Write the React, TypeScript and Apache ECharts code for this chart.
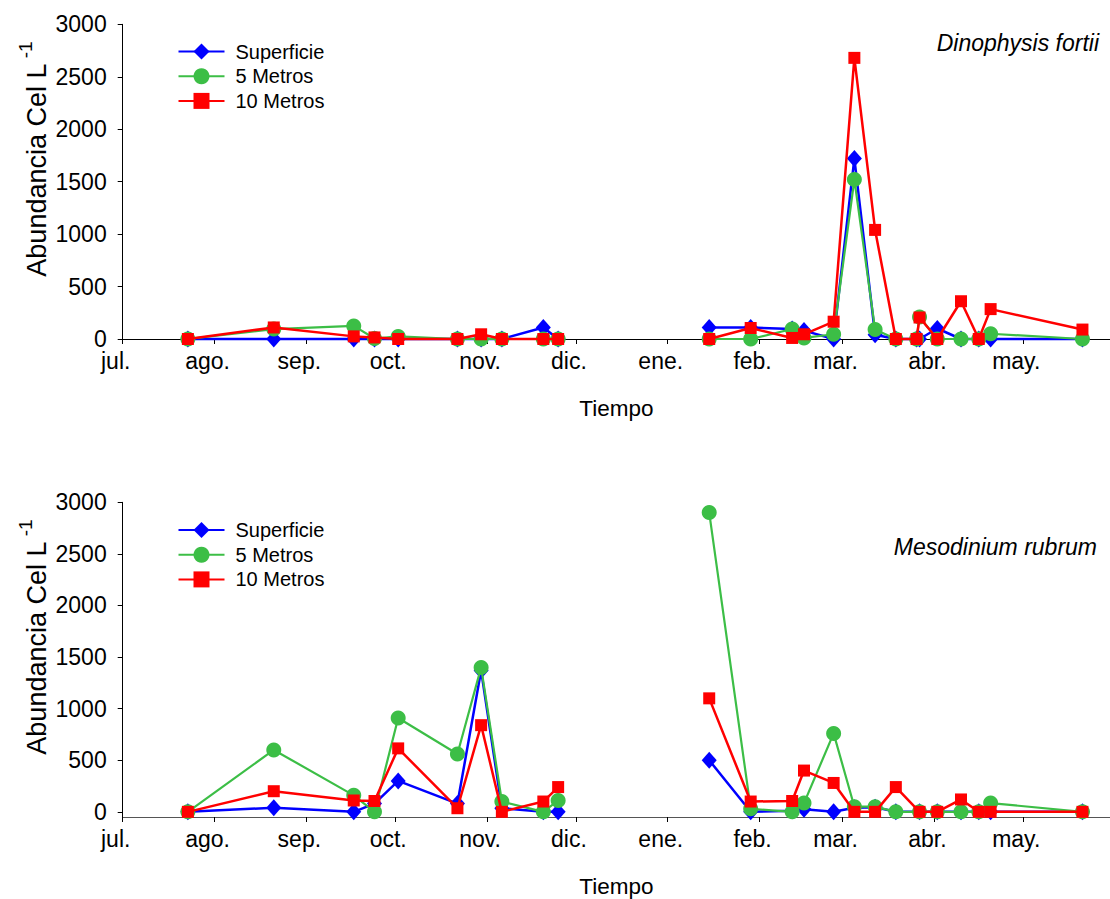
import React, { useEffect, useRef } from "react";
import * as echarts from "echarts";

const FONT = "'Liberation Sans', Arial, Helvetica, sans-serif";

const seasonStart = "2002-07-01";
const monthTickDays = [0, 31, 62, 92, 123, 153, 184, 215, 243, 274, 304];
const monthLabels = ["jul.", "ago.", "sep.", "oct.", "nov.", "dic.", "ene.", "feb.", "mar.", "abr.", "may."];
const yTickValues = [0, 500, 1000, 1500, 2000, 2500, 3000];
const seriesNames = ["Superficie", "5 Metros", "10 Metros"];
const speciesNames = ["Dinophysis fortii", "Mesodinium rubrum"];

const datesTop = [
  "2002-07-23", "2002-08-21", "2002-09-17", "2002-09-24", "2002-10-02", "2002-10-22", "2002-10-30",
  "2002-11-06", "2002-11-20", "2002-11-25", "2003-01-15", "2003-01-29", "2003-02-12", "2003-02-16",
  "2003-02-26", "2003-03-05", "2003-03-12", "2003-03-19", "2003-03-26", "2003-03-27", "2003-04-02",
  "2003-04-10", "2003-04-16", "2003-04-20", "2003-05-21",
];
const superficieTop = [0, 0, 0, 0, 0, 0, 0, 0, 110, 0, 110, 110, 95, 80, 0, 1720, 40, 0, 0, 0, 100, 0, 0, 0, 0];
const metros5Top = [0, 95, 125, 5, 25, 0, 0, 0, 0, 0, 0, 0, 95, 10, 45, 1520, 90, 0, 0, 210, 0, 0, 0, 50, 0];
const metros10Top = [0, 110, 25, 15, 0, 0, 45, 0, 0, 0, 0, 105, 10, 45, 165, 2680, 1040, 0, 0, 205, 0, 360, 0, 285, 90];

const datesBottom = [
  "2002-07-23", "2002-08-21", "2002-09-17", "2002-09-24", "2002-10-02", "2002-10-22", "2002-10-30",
  "2002-11-06", "2002-11-20", "2002-11-25", "2003-01-15", "2003-01-29", "2003-02-12", "2003-02-16",
  "2003-02-26", "2003-03-05", "2003-03-12", "2003-03-19", "2003-03-27", "2003-04-02",
  "2003-04-10", "2003-04-16", "2003-04-20", "2003-05-21",
];
const superficieBottom = [0, 40, 0, 80, 300, 80, 1370, 35, 0, 0, 500, 0, 10, 25, 0, 40, 45, 0, 0, 0, 0, 0, 0, 0];
const metros5Bottom = [0, 600, 160, 0, 910, 560, 1400, 100, 0, 110, 2900, 30, 0, 85, 760, 50, 50, 0, 0, 0, 0, 0, 85, 0];
const metros10Bottom = [0, 200, 110, 105, 615, 35, 840, 0, 100, 240, 1100, 100, 105, 400, 280, 0, 0, 240, 0, 0, 120, 0, 0, 0];

const COLORS = ["#0000ff", "#3cbe46", "#ff0000"];
const SYMBOLS = ["diamond", "circle", "rect"];
const SYMBOL_SIZES: any[] = [[15, 17], 15, 12];

function dayOf(d: string): number {
  const [y, m, dd] = d.split("-").map(Number);
  const [y0, m0, d0] = seasonStart.split("-").map(Number);
  return Math.round((Date.UTC(y, m - 1, dd) - Date.UTC(y0, m0 - 1, d0)) / 86400000);
}

function buildData(dates: string[], values: number[]) {
  const out: any[] = [];
  for (let i = 0; i < dates.length; i++) {
    const x = dayOf(dates[i]);
    if (i > 0 && x - dayOf(dates[i - 1]) > 40) {
      out.push([(x + dayOf(dates[i - 1])) / 2, "-"]);
    }
    out.push([x, values[i]]);
  }
  return out;
}

export default function App() {
  const ref = useRef<HTMLDivElement>(null);
  useEffect(() => {
    if (!ref.current) return;
    const chart = echarts.init(ref.current, undefined, { renderer: "svg" });

    const xAxisBase = (gridIndex: number, lineColor: string) => ({
      type: "value",
      gridIndex,
      min: 0,
      max: 333.3,
      name: "Tiempo",
      nameLocation: "middle",
      nameGap: 58,
      nameTextStyle: { fontFamily: FONT, fontSize: 22.5, color: "#000" },
      axisLine: { show: true, onZero: false, lineStyle: { color: lineColor, width: 1 } },
      axisTick: { show: true, length: 5, lineStyle: { color: "#000" }, customValues: monthTickDays },
      axisLabel: {
        fontFamily: FONT,
        fontSize: 23,
        color: "#000",
        margin: 10,
        padding: [0, 14, 0, 0],
        customValues: monthTickDays,
        formatter: (v: number) => {
          const i = monthTickDays.indexOf(Math.round(v));
          return i >= 0 ? monthLabels[i] : "";
        },
      },
      splitLine: { show: false },
    });

    const yAxisBase = (gridIndex: number, min: number) => ({
      type: "value",
      gridIndex,
      min,
      max: 3000,
      axisLine: { show: true, onZero: false, lineStyle: { color: "#000", width: 1 } },
      axisTick: { show: true, length: 5, lineStyle: { color: "#000" }, customValues: yTickValues },
      axisLabel: {
        fontFamily: FONT,
        fontSize: 23,
        color: "#000",
        margin: 16,
        customValues: yTickValues,
        formatter: (v: number) => String(Math.round(v)),
      },
      splitLine: { show: false },
    });

    const makeSeries = (idx: number, dates: string[], arrs: number[][]) =>
      arrs.map((vals, k) => ({
        type: "line",
        name: seriesNames[k],
        xAxisIndex: idx,
        yAxisIndex: idx,
        data: buildData(dates, vals),
        symbol: SYMBOLS[k],
        symbolSize: SYMBOL_SIZES[k],
        showAllSymbol: true,
        connectNulls: false,
        clip: false,
        lineStyle: { color: COLORS[k], width: k === 1 ? 2.2 : 2.5 },
        itemStyle: { color: COLORS[k] },
        z: 2 + k,
      }));

    const legendBase = (top: number) => ({
      show: true,
      orient: "vertical",
      left: 177.5,
      top,
      padding: 0,
      itemWidth: 46,
      itemHeight: 20,
      itemGap: 4.7,
      data: seriesNames,
      textStyle: { fontFamily: FONT, fontSize: 20, color: "#000", lineHeight: 20, padding: [0, 0, 0, 6] },
    });

    const yTitle = (cx: number, cy: number) => ({
      type: "text",
      x: cx,
      y: cy,
      rotation: Math.PI / 2,
      style: {
        text: "{n|Abundancia Cel L}{s| -1}",
        align: "center",
        verticalAlign: "middle",
        fill: "#000",
        rich: {
          n: { fontFamily: FONT, fontSize: 27, lineHeight: 34, verticalAlign: "bottom", fill: "#000" },
          s: { fontFamily: FONT, fontSize: 19, lineHeight: 34, verticalAlign: "top", fill: "#000" },
        },
      },
    });

    const title = (x: number, y: number, text: string) => ({
      type: "text",
      x,
      y,
      style: {
        text,
        align: "right",
        verticalAlign: "middle",
        fill: "#000",
        font: `italic 23px ${FONT}`,
      },
    });

    chart.setOption({
      animation: false,
      backgroundColor: "#fff",
      grid: [
        { left: 122.7, right: 0, top: 24.3, height: 314.7, containLabel: false },
        { left: 122.7, right: 0, top: 502.3, height: 315.4, containLabel: false },
      ],
      xAxis: [xAxisBase(0, "#000"), xAxisBase(1, "#555")],
      yAxis: [yAxisBase(0, 0), yAxisBase(1, -50)],
      legend: [legendBase(41.5), legendBase(520)],
      series: [
        ...makeSeries(0, datesTop, [superficieTop, metros5Top, metros10Top]),
        ...makeSeries(1, datesBottom, [superficieBottom, metros5Bottom, metros10Bottom]),
      ],
      graphic: [
        yTitle(33, 159),
        yTitle(33, 637),
        title(1099, 43, speciesNames[0]),
        title(1097, 547, speciesNames[1]),
      ],
    });
    return () => chart.dispose();
  }, []);
  return (
    <div
      ref={ref}
      style={{ position: "fixed", left: 0, top: 0, width: 1110, height: 899, background: "#fff" }}
    />
  );
}
